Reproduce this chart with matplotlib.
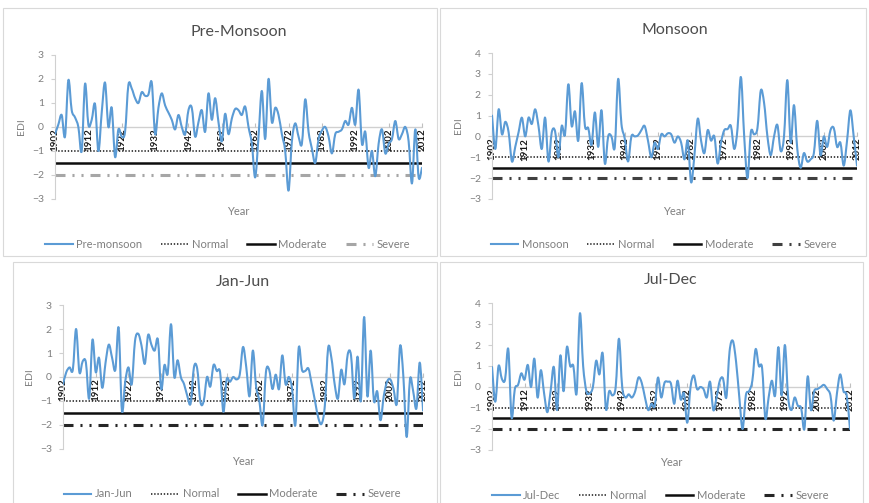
import numpy as np
import matplotlib
matplotlib.use("Agg")
import matplotlib.pyplot as plt
from matplotlib.path import Path
from matplotlib.patches import PathPatch, Rectangle
from matplotlib.lines import Line2D

plt.rcParams['font.family'] = ['Lato', 'DejaVu Sans']
plt.rcParams['lines.scale_dashes'] = False

years = list(range(1902, 2013))
year_ticks = list(range(1902, 2013, 10))

pre_monsoon = [
    -0.3, 0.1, 0.5, -0.4, 1.95, 0.7, 0.4, 0.0, -1.0, 1.8,
    0.1, 0.3, 0.95, -1.0, 0.6, 1.85, 0.0, 0.8, -1.25, -0.1,
    -0.4, -0.2, 1.75, 1.6, 1.2, 1.0, 1.45, 1.3, 1.35, 1.85,
    -0.3, 0.8, 1.4, 0.9, 0.6, 0.3, -0.1, 0.5, 0.0, -0.3,
    0.7, 0.8, -0.4, 0.2, 0.7, -0.2, 1.4, 0.3, 1.2, 0.2,
    -0.6, 0.55, -0.3, 0.35, 0.75, 0.7, 0.5, 0.85, 0.0, -0.7,
    -2.1, -0.4, 1.5, -0.5, 2.0, 0.2, 0.8, 0.5, -0.3, -1.0,
    -2.65, -0.6, 0.15, -0.4, -0.7, 1.15, -0.2, -0.9, -1.5, -0.5,
    -0.15, 0.0, -0.4, -1.1, -0.3, -0.2, -0.1, 0.25, 0.1, 0.8,
    0.1, 1.55, -0.7, -0.2, -1.7, -1.0, -2.05, -0.7, -0.1, -1.1,
    -0.7, -0.5, 0.25, -0.5, -0.3, 0.0, -0.6, -2.35, -0.1, -2.1,
    -1.7]

monsoon = [
    1.0, -0.6, 1.3, 0.1, 0.7, 0.2, -1.2, -0.5, 0.2, 0.9,
    0.0, 0.9, 0.6, 1.3, 0.5, -0.6, 0.9, -1.2, 0.2, 0.25,
    -1.0, 0.5, 0.1, 2.5, 0.5, 1.2, -0.2, 2.55, 0.5, 0.4,
    -0.4, 1.15, -0.5, 1.25, -1.3, 0.0, 0.0, -0.5, 2.75, 0.6,
    -0.1, -1.2, 0.0, 0.0, 0.05, 0.3, 0.5, -0.2, -1.0, -0.3,
    -0.6, 0.1, 0.0, 0.15, 0.1, -0.3, 0.0, -0.3, -1.1, -0.2,
    -2.2, -0.9, 0.85, -0.2, -0.8, 0.3, -0.2, 0.0, -1.3, -0.3,
    0.3, 0.35, 0.5, -0.6, 0.4, 2.85, 0.0, -2.0, 0.2, 0.1,
    0.4, 2.2, 1.6, 0.0, -0.9, 0.0, 0.55, -0.7, 0.0, 2.7,
    -0.3, 1.5, -0.6, -1.5, -0.8, -1.2, -1.1, -0.8, 0.75, -0.9,
    0.0, -0.5, 0.3, 0.4, -0.5, -0.3, -1.4, -0.2, 1.25, 0.0,
    -1.4]

jan_jun = [
    -0.3, 0.2, 0.4, 0.3, 2.0, 0.2, 0.65, 0.6, -0.9, 1.55,
    0.2, 0.8, -0.45, 0.6, 1.35, 0.8, 0.3, 2.05, -1.4, -0.2,
    0.4, -0.3, 1.5, 1.8, 1.3, 0.55, 1.75, 1.35, 1.1, 1.55,
    -0.5, 0.5, 0.15, 2.2, 0.0, 0.7, 0.0, -0.3, -0.8, -1.1,
    0.4, 0.35, -1.05, -1.0, 0.0, -0.4, 0.5, 0.25, 0.2, -1.45,
    -0.1, -0.2, 0.0, -0.1, 0.1, 1.25, 0.4, -0.8, 1.1, -0.4,
    -1.0, -2.0, 0.2, 0.3, -0.5, 0.1, -0.5, 0.9, -0.3, 0.0,
    -0.5, -2.0, 1.2, 0.3, 0.25, 0.35, -0.3, -1.0, -1.7, -1.95,
    -1.2, 1.2, 0.8, -0.3, -0.9, 0.3, -0.3, 0.95, 0.9, -0.9,
    0.85, -1.0, 2.5, -0.8, 1.1, -1.0, -0.6, -1.8, -0.8, -0.2,
    -0.1, -0.5, -1.1, 1.3, 0.0, -2.5, -0.1, -0.6, -1.3, 0.6,
    -1.4]

jul_dec = [
    0.95, -0.7, 1.0, 0.4, 0.35, 1.8, -1.45, -0.1, 0.1, 0.65,
    0.35, 1.05, 0.0, 1.35, -0.5, 0.8, -0.3, -1.2, -0.2, 0.95,
    -1.1, 1.5, -0.2, 1.9, 1.0, 1.0, -0.3, 3.5, 1.0, -0.2,
    -0.3, 0.0, 1.25, 0.6, 1.6, -1.05, -0.2, -0.4, 0.0, 2.3,
    0.0, -0.5, -0.35, -0.5, -0.2, 0.45, 0.2, -0.5, -1.1, -0.8,
    -0.9, 0.45, -0.5, 0.2, 0.25, 0.15, -0.8, 0.3, -0.6, -0.3,
    -1.7, 0.0, 0.55, -0.1, 0.0, -0.1, -0.5, 0.25, -1.1, -0.5,
    0.3, 0.4, -0.5, 1.7, 2.2, 1.2, -0.5, -2.0, -0.4, -0.2,
    0.3, 1.8, 1.0, 0.9, -1.5, -0.5, 0.3, -0.4, 1.9, -0.4,
    2.0, -0.5, -1.1, -0.5, -0.9, -1.0, -2.0, 0.5, -1.1, -0.2,
    -0.1, 0.0, 0.1, -0.1, -0.4, -1.6, -0.3, 0.6, -0.2, -0.4,
    -2.0]

thresholds = {"Normal": -1.0, "Moderate": -1.5, "Severe": -2.0}

panels = [
    # title, legend name, series, y limits, axes rect [l, b, w, h], severe colour
    ("Pre-Monsoon", "Pre-monsoon", pre_monsoon, (-3, 3),
     [0.0633, 0.6044, 0.4223, 0.2863], "#a6a6a6"),
    ("Monsoon", "Monsoon", monsoon, (-3, 4),
     [0.5662, 0.6044, 0.4200, 0.2902], "#404040"),
    ("Jan-Jun", "Jan-Jun", jan_jun, (-3, 3),
     [0.0725, 0.1074, 0.4143, 0.2862], "#262626"),
    ("Jul-Dec", "Jul-Dec", jul_dec, (-3, 4),
     [0.5662, 0.1054, 0.4119, 0.2922], "#262626"),
]

# panel frames (pixel boxes converted to figure fractions)
W, H = 869, 503
frames = [(3, 8, 437, 256), (440, 8, 866, 256),
          (13, 262, 437, 510), (440, 262, 863, 510)]

BLUE = "#5b9bd5"
GREY_TXT = "#7f7f7f"
SEVERE_DASH = (0, (7.2, 5.0, 1.5, 5.0, 1.5, 5.0))
NORMAL_DOT = (0, (1.0, 1.3))


def smooth_path(x, y):
    """Cubic Bezier path through the points (Catmull-Rom style)."""
    x = np.asarray(x, float)
    y = np.asarray(y, float)
    n = len(x)
    verts = [(x[0], y[0])]
    codes = [Path.MOVETO]
    for i in range(n - 1):
        x0, y0 = (x[i - 1], y[i - 1]) if i > 0 else (x[i], y[i])
        x3, y3 = (x[i + 2], y[i + 2]) if i + 2 < n else (x[i + 1], y[i + 1])
        c1 = (x[i] + (x[i + 1] - x0) / 6.0, y[i] + (y[i + 1] - y0) / 6.0)
        c2 = (x[i + 1] - (x3 - x[i]) / 6.0, y[i + 1] - (y3 - y[i]) / 6.0)
        verts += [c1, c2, (x[i + 1], y[i + 1])]
        codes += [Path.CURVE4] * 3
    return Path(verts, codes)


fig = plt.figure(figsize=(W / 100, H / 100), dpi=100)
fig.patch.set_facecolor("white")

for (x0, y0, x1, y1) in frames:
    fig.patches.append(Rectangle((x0 / W, 1 - y1 / H), (x1 - x0) / W, (y1 - y0) / H,
                                 transform=fig.transFigure, fill=False,
                                 edgecolor="#d9d9d9", linewidth=0.8))

for title, name, series, ylim, rect, sev_col in panels:
    ax = fig.add_axes(rect)
    ax.set_facecolor("none")
    ax.set_xlim(years[0], years[-1])
    ax.set_ylim(*ylim)

    # zero gridline / category axis
    ax.axhline(0, color="#d0d0d0", lw=0.9, zorder=1)

    # drought thresholds
    ax.axhline(thresholds["Normal"], color="#262626", lw=1.2,
               linestyle=NORMAL_DOT, zorder=2)
    ax.axhline(thresholds["Moderate"], color="#0d0d0d", lw=1.8, zorder=2)
    ax.axhline(thresholds["Severe"], color=sev_col, lw=2.2,
               linestyle=SEVERE_DASH, zorder=2)

    ax.add_patch(PathPatch(smooth_path(years, series), facecolor="none",
                           edgecolor=BLUE, lw=1.5, zorder=4,
                           capstyle="round", joinstyle="round"))

    for side in ("top", "right"):
        ax.spines[side].set_visible(False)
    ax.spines["left"].set_color("#d0d0d0")
    ax.spines["bottom"].set_position(("data", 0))
    ax.spines["bottom"].set_color("#d0d0d0")
    ax.spines["bottom"].set_zorder(1)

    ax.set_yticks(range(ylim[0], ylim[1] + 1))
    ax.tick_params(axis="y", colors=GREY_TXT, labelsize=7.5, length=3,
                   direction="out", color="#d0d0d0", pad=5)
    ax.set_xticks(year_ticks)
    ax.set_xticklabels([str(t) for t in year_ticks], rotation=90,
                       fontsize=7, fontweight="bold", color="#1a1a1a")
    ax.tick_params(axis="x", length=3, direction="in", color="#c0c0c0", pad=1)
    for lab in ax.get_xticklabels():
        lab.set_zorder(3)

    ax.set_ylabel("EDI", color=GREY_TXT, fontsize=7.5, labelpad=4)
    ax.set_title(title, fontsize=11.5, color="#4d4d4d", pad=14)

    ax.text(0.5, -0.05, "Year", transform=ax.transAxes, ha="center", va="top",
            fontsize=8, color=GREY_TXT)

    handles = [
        Line2D([], [], color=BLUE, lw=1.5),
        Line2D([], [], color="#262626", lw=1.2, linestyle=NORMAL_DOT),
        Line2D([], [], color="#0d0d0d", lw=1.8),
        Line2D([], [], color=sev_col, lw=2.2, linestyle=SEVERE_DASH),
    ]
    labels = [name, "Normal", "Moderate", "Severe"]
    leg = ax.legend(handles, labels, loc="upper center",
                    bbox_to_anchor=(0.47, -0.205), ncol=4, frameon=False,
                    fontsize=8, handlelength=2.5, handletextpad=0.3,
                    columnspacing=1.7)
    for t in leg.get_texts():
        t.set_color(GREY_TXT)

fig.savefig("out.png", dpi=100, facecolor="white")
